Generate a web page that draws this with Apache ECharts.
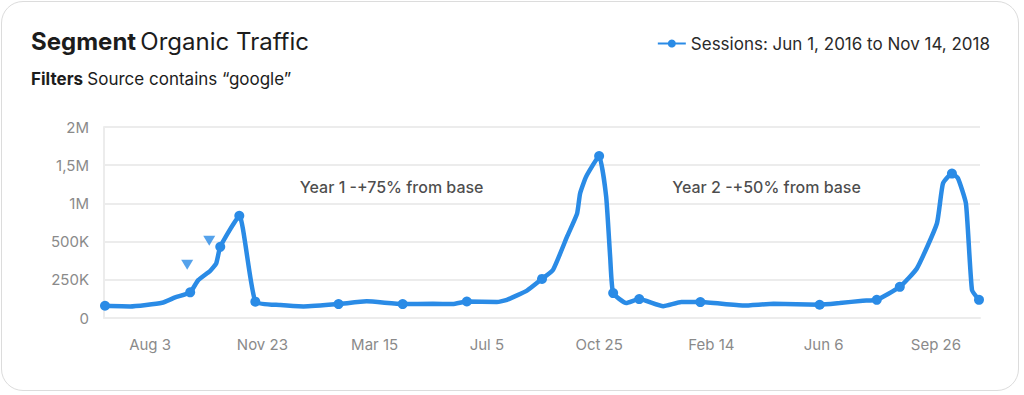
<!DOCTYPE html>
<html>
<head>
<meta charset="utf-8">
<script src="https://cdn.jsdelivr.net/npm/echarts@6/dist/echarts.min.js"></script>
<style>
html,body{margin:0;padding:0;background:#fff;}
#card{position:absolute;left:1px;top:1px;width:1018px;height:390px;border:1px solid #dcdcdc;border-radius:22px;box-sizing:border-box;}
#chart{position:absolute;left:0;top:0;width:1024px;height:395px;}
</style>
</head>
<body>
<div id="card"></div>
<div id="chart"></div>
<script>
// ---- data ----
const dates = [
 '2016-06-19','2016-07-14','2016-08-15','2016-08-28','2016-09-12','2016-09-20','2016-10-02','2016-10-08','2016-10-12','2016-10-31',
 '2016-11-16','2016-12-11','2017-01-03','2017-02-07','2017-03-07','2017-04-12','2017-05-12','2017-06-01','2017-06-15','2017-07-15',
 '2017-07-25','2017-08-14','2017-08-29','2017-09-09','2017-09-23','2017-10-03','2017-10-06','2017-10-12','2017-10-25','2017-11-01',
 '2017-11-05','2017-11-08','2017-11-21','2017-12-04','2017-12-28','2018-01-15','2018-02-03','2018-03-18','2018-04-17','2018-06-02',
 '2018-06-22','2018-07-15','2018-07-29','2018-08-21','2018-09-07','2018-09-27','2018-10-03','2018-10-12','2018-10-18','2018-10-26',
 '2018-11-01','2018-11-08'
];
const sessions = [
 80000,76000,100000,135000,168000,248000,309000,358000,466000,838000,
 107000,85000,76000,91000,109000,91000,93000,91000,108000,104000,
 119000,179000,256000,315000,565000,866000,1130000,1350000,1620000,1090000,
 400000,163000,98000,124000,77000,104000,104000,82000,93000,87000,
 98000,113000,119000,204000,324000,737000,1260000,1390000,1330000,997000,
 183000,119000
];
const markerDates = ['2016-06-19','2016-09-12','2016-10-12','2016-10-31','2016-11-16','2017-02-07','2017-04-12','2017-06-15','2017-08-29','2017-10-25',
 '2017-11-08','2017-12-04','2018-02-03','2018-06-02','2018-07-29','2018-08-21','2018-10-12','2018-11-08'];
const yTickLabels = ['0','250K','500K','1M','1,5M','2M'];
const yTickValues = [0,250000,500000,1000000,1500000,2000000];
const xTickDates = ['2016-08-03','2016-11-23','2017-03-15','2017-07-05','2017-10-25','2018-02-14','2018-06-06','2018-09-26'];
const flagDates = ['2016-09-09','2016-10-01'];
const flagValues = [348000,510000];
const noteDates = ['2017-04-01','2018-04-10'];
const noteValues = [1220000,1220000];
const noteTexts = ['Year 1 -+75% from base','Year 2 -+50% from base'];
const legendName = 'Sessions: Jun 1, 2016 to Nov 14, 2018';

// piecewise axis: each tick label is one unit apart
function toAxis(v){
  for(let i=1;i<yTickValues.length;i++){
    if(v<=yTickValues[i]){
      return (i-1)+(v-yTickValues[i-1])/(yTickValues[i]-yTickValues[i-1]);
    }
  }
  return yTickValues.length-1;
}
const months=['Jan','Feb','Mar','Apr','May','Jun','Jul','Aug','Sep','Oct','Nov','Dec'];
function ts(s){const p=s.split('-');return Date.UTC(+p[0],+p[1]-1,+p[2]);}

const BLUE='#2a8be6';
const FONT='Inter, "Noto Sans", sans-serif';

const lineData = dates.map((d,i)=>({
  value:[ts(d), toAxis(sessions[i])],
  symbol: markerDates.indexOf(d)>=0 ? 'circle' : 'none'
}));

const chart = echarts.init(document.getElementById('chart'), null, {renderer:'svg'});
chart.setOption({
  animation:false,
  textStyle:{fontFamily:FONT},
  title:[{
    left:31, top:29, padding:0,
    text:'{b|Segment} {r|Organic Traffic}',
    textStyle:{rich:{
      b:{fontFamily:FONT,fontSize:24,fontWeight:700,color:'#1c1c1c',letterSpacing:-0.3},
      r:{fontFamily:FONT,fontSize:24,fontWeight:400,color:'#1c1c1c',letterSpacing:-0.3}
    }}
  },{
    left:31, top:70, padding:0,
    text:'{b|Filters} {r|Source contains “google”}',
    textStyle:{rich:{
      b:{fontFamily:FONT,fontSize:17,fontWeight:700,color:'#1c1c1c'},
      r:{fontFamily:FONT,fontSize:17,fontWeight:400,color:'#1c1c1c'}
    }}
  }],
  legend:{
    right:29, top:30,
    itemWidth:28, itemHeight:10, itemGap:10,
    data:[legendName],
    textStyle:{fontFamily:FONT,fontSize:17,color:'#2a2a2a'}
  },
  grid:{left:104,right:44,top:127,bottom:77},
  xAxis:{
    type:'value',
    min:ts('2016-06-18'), max:ts('2018-11-09'),
    axisLine:{show:true,lineStyle:{color:'#ececec',width:2}},
    axisTick:{show:false},
    splitLine:{show:false},
    axisLabel:{
      customValues:xTickDates.map(ts),
      color:'#8a8a8a', fontSize:15, fontFamily:FONT, margin:19,
      formatter:function(v){const d=new Date(v);return months[d.getUTCMonth()]+' '+d.getUTCDate();}
    }
  },
  yAxis:{
    type:'value', min:0, max:5, interval:1,
    axisLine:{show:true,lineStyle:{color:'#ececec',width:2}},
    axisTick:{show:false},
    splitLine:{lineStyle:{color:'#ececec',width:2}},
    axisLabel:{color:'#8a8a8a',fontSize:15,fontFamily:FONT,margin:15,
      formatter:function(v){return yTickLabels[Math.round(v)];}}
  },
  series:[{
    name:legendName,
    type:'line',
    data:lineData,
    symbol:'circle', symbolSize:10, showAllSymbol:true,
    lineStyle:{color:BLUE,width:4.5},
    itemStyle:{color:BLUE},
    smooth:0.15,
    z:3
  },{
    name:'flags', type:'scatter',
    data:flagDates.map((d,i)=>[ts(d),toAxis(flagValues[i])]),
    symbol:'triangle', symbolRotate:180, symbolSize:[12,10],
    itemStyle:{color:BLUE}, z:4
  },{
    name:'notes', type:'scatter',
    data:noteDates.map((d,i)=>({value:[ts(noteDates[i]),toAxis(noteValues[i])],label:{formatter:noteTexts[i]}})),
    symbolSize:0,
    label:{show:true,position:'inside',color:'#1c1c1c',fontSize:16,fontWeight:500,fontFamily:FONT},
    z:5
  }]
});
</script>
</body>
</html>
